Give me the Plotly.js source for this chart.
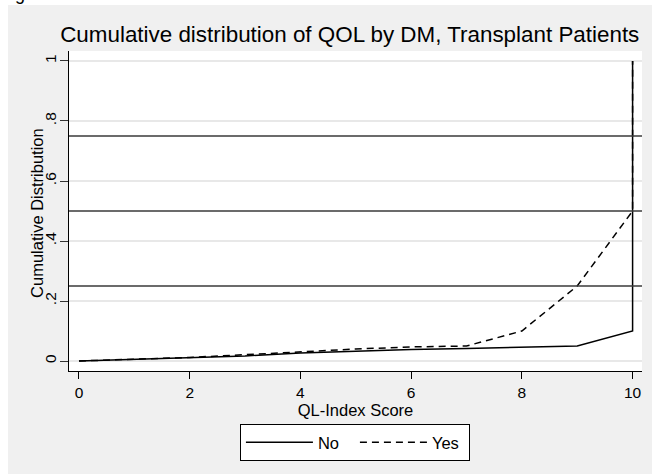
<!DOCTYPE html>
<html>
<head>
<meta charset="utf-8">
<script src="https://cdn.plot.ly/plotly-3.0.1.min.js"></script>
<style>html,body{margin:0;padding:0;background:#ffffff;}#chart{width:652px;height:474px;}</style>
</head>
<body>
<div id="chart"></div>
<script>
// QL-Index scores
var scores = [0, 1, 2, 3, 4, 5, 6, 7, 8, 9, 10];
// cumulative distribution, DM = No
var noCum = [0, 0.005, 0.010, 0.017, 0.027, 0.033, 0.038, 0.042, 0.046, 0.050, 0.100];
// cumulative distribution, DM = Yes
var yesCum = [0, 0.005, 0.012, 0.021, 0.031, 0.040, 0.047, 0.050, 0.100, 0.250, 0.500];
// final jump to 1 at the top score
var topScore = 10;
var topCum = 1;
// reference lines (quartiles)
var refLines = [0.25, 0.5, 0.75];
// axis ticks
var xTicks = [0, 2, 4, 6, 8, 10];
var yTicks = [0, 0.2, 0.4, 0.6, 0.8, 1];
var yTickText = ['0', '.2', '.4', '.6', '.8', '1'];
var seriesNames = ['No', 'Yes'];

var FONT = 'Liberation Sans, Arial, Helvetica, sans-serif';

var traces = [
  {
    x: scores.concat([topScore]),
    y: noCum.concat([topCum]),
    type: 'scatter', mode: 'lines', name: seriesNames[0],
    line: {color: '#000000', width: 1.5}
  },
  {
    x: scores.concat([topScore]),
    y: yesCum.concat([topCum]),
    type: 'scatter', mode: 'lines', name: seriesNames[1],
    line: {color: '#000000', width: 1.5, dash: '7px,5px'}
  }
];

var shapes = [
  // white strips at the top and left edges of the image
  {type: 'rect', xref: 'paper', yref: 'paper', x0: -0.3, x1: 1.2, y0: 1.144, y1: 1.4,
   fillcolor: '#ffffff', line: {width: 0}, layer: 'above'},
  {type: 'rect', xref: 'paper', yref: 'paper', x0: -0.3, x1: -0.1065, y0: -0.5, y1: 1.4,
   fillcolor: '#ffffff', line: {width: 0}, layer: 'above'}
];
refLines.forEach(function (v) {
  shapes.push({type: 'line', xref: 'paper', yref: 'y', x0: 0, x1: 1, y0: v, y1: v,
    line: {color: '#3a3a3a', width: 1.3}, layer: 'above'});
});

var layout = {
  width: 652, height: 474,
  margin: {l: 69, r: 10, t: 51, b: 103, pad: 0},
  paper_bgcolor: '#f0f0f0',
  plot_bgcolor: '#ffffff',
  font: {family: FONT, color: '#000000', size: 15.5},
  title: {
    text: 'Cumulative distribution of QOL by DM, Transplant Patients',
    font: {family: FONT, size: 22.4, color: '#000000'},
    xref: 'paper', x: 0.49, xanchor: 'center',
    yref: 'container', y: 0.928, yanchor: 'middle'
  },
  xaxis: {
    range: [-0.18, 10.17],
    tickvals: xTicks, ticktext: xTicks.map(String),
    ticks: 'outside', ticklen: 7, tickwidth: 1, tickcolor: '#000000',
    showline: true, linecolor: '#000000', linewidth: 1,
    showgrid: false, zeroline: false,
    tickfont: {family: FONT, size: 15.5, color: '#000000'},
    title: {text: 'QL-Index Score', font: {family: FONT, size: 16.5, color: '#000000'}, standoff: 1}
  },
  yaxis: {
    range: [-0.0333, 1.0333],
    tickvals: yTicks, ticktext: yTickText,
    tickangle: -90,
    ticks: 'outside', ticklen: 8, tickwidth: 1, tickcolor: '#333333',
    ticklabelstandoff: -2,
    showline: true, linecolor: '#000000', linewidth: 1,
    showgrid: true, gridcolor: '#e8e8e8', gridwidth: 1.5,
    zeroline: false,
    tickfont: {family: FONT, size: 15.5, color: '#000000'}
  },
  showlegend: true,
  legend: {
    orientation: 'h',
    x: 0.499, xanchor: 'center',
    y: -0.166, yanchor: 'top',
    bgcolor: '#ffffff', bordercolor: '#000000', borderwidth: 1,
    font: {family: FONT, size: 16.5, color: '#000000'},
    itemwidth: 67,
    entrywidth: 32, entrywidthmode: 'pixels',
    traceorder: 'normal'
  },
  shapes: shapes,
  annotations: [
    {text: 'Cumulative Distribution', xref: 'paper', yref: 'paper',
     x: -0.0558, y: 0.494, xanchor: 'center', yanchor: 'middle',
     textangle: -90, showarrow: false,
     font: {family: FONT, size: 16.5, color: '#000000'}},
    {text: 'g', xref: 'paper', yref: 'paper', x: -0.0855, y: 1.142,
     xanchor: 'center', yanchor: 'bottom', showarrow: false,
     font: {family: FONT, size: 18, color: '#000000'}}
  ]
};

Plotly.newPlot('chart', traces, layout, {staticPlot: true, displayModeBar: false});
</script>
</body>
</html>
